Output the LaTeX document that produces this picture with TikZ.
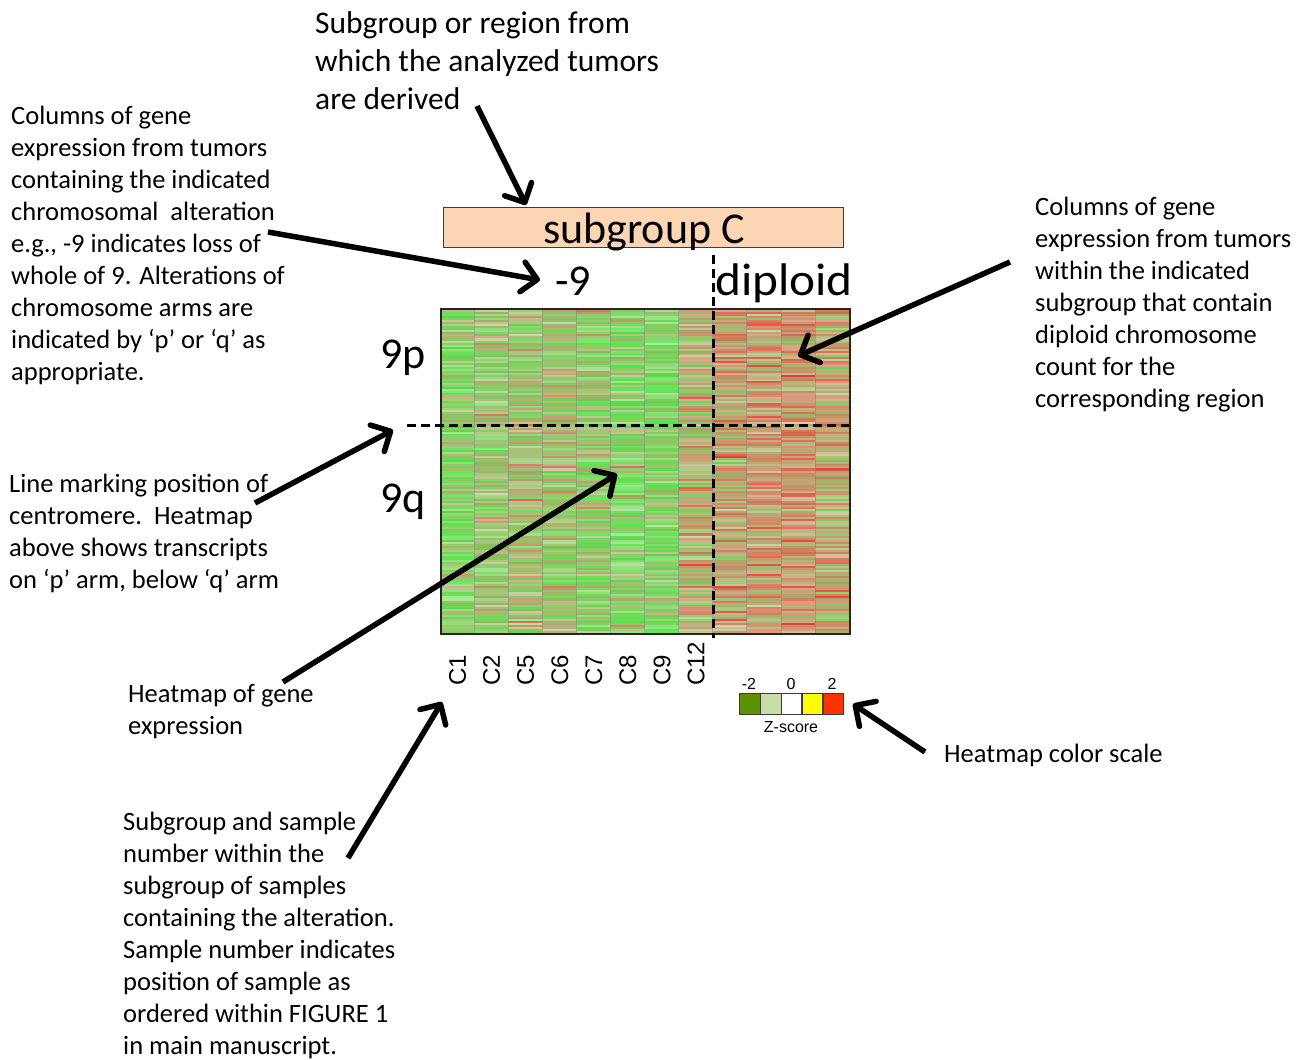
\documentclass[tikz,border=0pt]{standalone}
\usepackage{fontspec}
\setmainfont{Carlito}
\newfontfamily\arialf{Liberation Sans}
\usetikzlibrary{arrows.meta}
\definecolor{peach}{RGB}{252,213,180}
\definecolor{zdark}{RGB}{94,145,0}
\definecolor{zpale}{RGB}{198,221,168}
\definecolor{zyel}{RGB}{255,255,0}
\definecolor{zred}{RGB}{255,51,0}
\definecolor{edge}{RGB}{60,60,60}
\tikzset{
  note/.style={anchor=base west, inner sep=0pt, align=left, font=\fontsize{26.5}{32}\selectfont},
  title/.style={anchor=base west, inner sep=0pt, align=left, font=\fontsize{31.5}{38}\selectfont},
  big/.style={inner sep=0pt, font=\fontsize{44}{50}\selectfont},
  collab/.style={rotate=90, anchor=west, inner sep=0pt, font=\arialf\fontsize{24}{28}\selectfont},
  scalelab/.style={anchor=base, inner sep=0pt, font=\arialf\fontsize{16}{19}\selectfont},
  scalebox/.style={draw=edge, line width=1.3pt, minimum width=20.8pt, minimum height=21pt, inner sep=0pt, anchor=north west},
  pointer/.style={line width=5.5pt, -{Straight Barb[length=15pt,width=30pt,round]}},
  divider/.style={line width=3pt, dash pattern=on 9pt off 5pt},
}
\begin{document}
\begin{tikzpicture}[x=1pt,y=-1pt]
\useasboundingbox (0,0) rectangle (1309,1060);

% ---------- heatmap stripes ----------
\pgfmathsetseed{7}
\foreach \c/\b in {0/0.17,1/0.27,2/0.33,3/0.33,4/0.23,5/0.13,6/0.15,7/0.44,8/0.52,9/0.58,10/0.60,11/0.50} {
  \foreach \r in {0,...,159} {
    \pgfmathsetmacro\t{max(0,min(1,\b+0.5*(rnd-0.5)+0.10*sin(\r*61)+0.35*(rnd>0.93)))}
    \pgfmathsetmacro\s{\t<0.5 ? 2*\t : 2*\t-1}
    \pgfmathsetmacro\d{1-0.08*rnd}
    \pgfmathsetmacro\R{\d*(\t<0.5 ? 90+100*\s : 190+55*\s)}
    \pgfmathsetmacro\G{\d*(\t<0.5 ? 235-62*\s : 173-108*\s)}
    \pgfmathsetmacro\B{\d*(\t<0.5 ? 75+40*\s : 115-62*\s)}
    \pgfmathsetmacro\w{0.5*rnd*rnd}
    \pgfmathsetmacro\RR{(\R+(255-\R)*\w)/255}
    \pgfmathsetmacro\GG{(\G+(255-\G)*\w)/255}
    \pgfmathsetmacro\BB{(\B+(255-\B)*\w)/255}
    \definecolor{hmc}{rgb}{\RR,\GG,\BB}
    \fill[hmc] (440+34.0833*\c, 308+2.03125*\r) rectangle ++(34.0833,2.1);
  }
}
\foreach \c in {1,...,11} {
  \draw[gray, opacity=0.45, line width=0.6pt] (440+34.0833*\c,308) -- (440+34.0833*\c,633);
}
\node[draw=black!85, line width=1.5pt, minimum width=409pt, minimum height=325pt, inner sep=0pt, anchor=north west] (hm) at (440,308) {};

% dividers
\coordinate (vtop) at (713,255);
\coordinate (vbot) at (713,638);
\coordinate (hleft) at (407,425);
\coordinate (hright) at (849,425);
\draw[divider] (vtop) -- (vbot);
\draw[divider] (hleft) -- (hright);

% ---------- subgroup box & labels ----------
\node[draw=edge, fill=peach, line width=1.3pt, minimum width=400pt, minimum height=40pt, inner sep=0pt, anchor=north west] (sgbox) at (443,207) {};
\node[big, anchor=base] (sg) at (644,243) {subgroup C};
\node[big, anchor=base] (m9) at (573,295) {-9};
\node[big, anchor=base west] (dip) at (715,295) {\scalebox{1.12}[1.04]{diploid}};
\node[big, anchor=base] (p9) at (403,368) {9p};
\node[big, anchor=base] (q9) at (403,512) {9q};

% column labels
\foreach \n/\lab in {0/C1,1/C2,2/C5,3/C6,4/C7,5/C8,6/C9,7/C12} {
  \node[collab] (col\n) at (440+34.0833*\n+17.5, 686) {\lab};
}

% colour scale
\node[scalebox, fill=zdark] (z1) at (739,693) {};
\node[scalebox, fill=zpale] (z2) at (759.8,693) {};
\node[scalebox, fill=white] (z3) at (780.6,693) {};
\node[scalebox, fill=zyel] (z4) at (801.4,693) {};
\node[scalebox, fill=zred] (z5) at (822.2,693) {};
\node[scalelab] (lm2) at (749,689) {-2};
\node[scalelab] (l0) at (791,689) {0};
\node[scalelab] (l2) at (832,689) {2};
\node[scalelab] (zs) at (791,732) {Z-score};

% ---------- annotation texts (anchored at the baseline of their last line) ----------
\node[title] (t1) at (315,109) {Subgroup or region from\\which the analyzed tumors\\are derived};
\node[note] (t2) at (11,380) {Columns of gene\\expression from tumors\\containing the indicated\\chromosomal\ \ alteration\\e.g., -9 indicates loss of\\whole of 9. Alterations of\\chromosome arms are\\indicated by ‘p’ or ‘q’ as\\appropriate.};
\node[note] (t3) at (1035,407) {Columns of gene\\expression from tumors\\within the indicated\\subgroup that contain\\diploid chromosome\\count for the\\corresponding region};
\node[note] (t4) at (9,588) {Line marking position of\\centromere.\ \ Heatmap\\above shows transcripts\\on ‘p’ arm, below ‘q’ arm};
\node[note] (t5) at (128,734) {Heatmap of gene\\expression};
\node[note] (t6) at (123,1054) {Subgroup and sample\\number within the\\subgroup of samples\\containing the alteration.\\Sample number indicates\\position of sample as\\ordered within FIGURE 1\\in main manuscript.};
\node[note] (t7) at (944,762) {Heatmap color scale};

% ---------- arrows ----------
\coordinate (a1s) at (477,106);  \coordinate (a1e) at (526,205);
\coordinate (a2s) at (268,232);  \coordinate (a2e) at (540,280);
\coordinate (a3s) at (1010,262); \coordinate (a3e) at (798,356);
\coordinate (a4s) at (255,503);  \coordinate (a4e) at (393,430);
\coordinate (a5s) at (283,682);  \coordinate (a5e) at (617,474);
\coordinate (a6s) at (348,858);  \coordinate (a6e) at (442,702);
\coordinate (a7s) at (925,752);  \coordinate (a7e) at (853,704);
\draw[pointer] (a1s) -- (a1e);
\draw[pointer] (a2s) -- (a2e);
\draw[pointer] (a3s) -- (a3e);
\draw[pointer] (a4s) -- (a4e);
\draw[pointer] (a5s) -- (a5e);
\draw[pointer] (a6s) -- (a6e);
\draw[pointer] (a7s) -- (a7e);
\end{tikzpicture}
\end{document}
